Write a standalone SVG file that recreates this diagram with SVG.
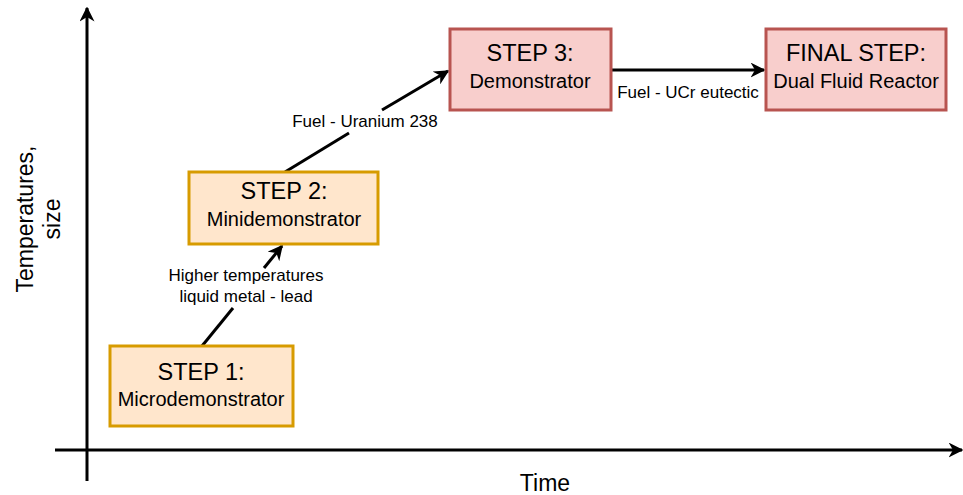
<svg xmlns="http://www.w3.org/2000/svg" width="963" height="495" viewBox="0 0 963 495">
<style>
text{font-family:"Liberation Sans",Arial,sans-serif;fill:#000;text-anchor:middle}
.o{fill:#ffe6cc;stroke:#d79b00;stroke-width:3}
.r{fill:#f8cecc;stroke:#b85450;stroke-width:3}
.t{font-size:23.5px}
.s{font-size:20px}
.l{font-size:17px}
.x{font-size:23px}
.c{stroke:#000;stroke-width:3;fill:none}
</style>
<defs>
<marker id="a" viewBox="0 0 10 10" refX="9" refY="5" markerWidth="5" markerHeight="5" orient="auto" markerUnits="strokeWidth">
<path d="M0,0 L10,5 L0,10 L3,5 Z" fill="#000"/>
</marker>
</defs>
<rect width="963" height="495" fill="#fff"/>
<g id="axes">
<line class="c" x1="87" y1="481" x2="87" y2="8" marker-end="url(#a)"/>
<line class="c" x1="55" y1="450" x2="962" y2="450" marker-end="url(#a)"/>
<text class="x" x="545" y="491">Time</text>
<text class="x" transform="translate(33,219) rotate(-90)">Temperatures,</text>
<text class="x" transform="translate(60,219) rotate(-90)">size</text>
</g>
<g id="connectors">
<line class="c" x1="202" y1="346" x2="233" y2="308"/>
<line class="c" x1="264" y1="268" x2="282" y2="246" marker-end="url(#a)"/>
<text class="l" x="246" y="281">Higher temperatures</text>
<text class="l" x="246" y="302">liquid metal - lead</text>
<line class="c" x1="285" y1="172" x2="349" y2="133"/>
<line class="c" x1="382" y1="110" x2="448" y2="71" marker-end="url(#a)"/>
<text class="l" x="365" y="127">Fuel - Uranium 238</text>
<line class="c" x1="611" y1="70" x2="764" y2="70" marker-end="url(#a)"/>
<text class="l" x="688" y="98">Fuel - UCr eutectic</text>
</g>
<g id="step1">
<rect class="o" x="110" y="346" width="183" height="80"/>
<text class="t" x="201" y="380">STEP 1:</text>
<text class="s" x="201" y="406">Microdemonstrator</text>
</g>
<g id="step2">
<rect class="o" x="189" y="172" width="189" height="72"/>
<text class="t" x="284" y="199">STEP 2:</text>
<text class="s" x="284" y="226">Minidemonstrator</text>
</g>
<g id="step3">
<rect class="r" x="450" y="29" width="161" height="81"/>
<text class="t" x="530" y="61">STEP 3:</text>
<text class="s" x="530" y="88">Demonstrator</text>
</g>
<g id="final">
<rect class="r" x="766" y="29" width="180" height="81"/>
<text class="t" x="856" y="61">FINAL STEP:</text>
<text class="s" x="856" y="88">Dual Fluid Reactor</text>
</g>
</svg>
